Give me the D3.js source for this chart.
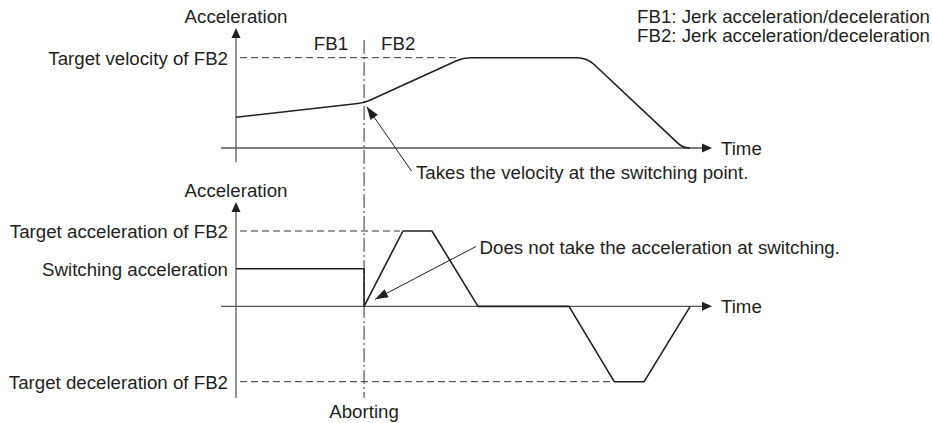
<!DOCTYPE html>
<html>
<head>
<meta charset="utf-8">
<script src="https://cdn.jsdelivr.net/npm/d3@7"></script>
<style>
  body { margin: 0; background: #fff; }
  svg text { font-family: "Liberation Sans", Arial, sans-serif; font-size: 18.7px; fill: #231f20; }
  .curve { fill: none; stroke: #231f20; stroke-width: 1.6; stroke-linejoin: round; }
  .axis { stroke: #555; stroke-width: 1.3; }
  .guide { stroke: #333; stroke-width: 1; stroke-dasharray: 7 4; }
  .abort { stroke: #333; stroke-width: 1; stroke-dasharray: 14 3 2 3; }
  .note { stroke: #231f20; stroke-width: 1; }
  .head { fill: #231f20; }
</style>
</head>
<body>
<div id="chart"></div>
<script>
// time at which FB1 is aborted and FB2 takes over
const switchTime = 30;

// velocity profile corners (time, % of FB2 target velocity)
const velTime  = [0, 30, 53.2, 82.2, 104.7, 106.4];
const velValue = [34, 50, 100, 100, 0, 0];

// acceleration profile (time, % of FB2 target acceleration)
const accTime  = [0, 30, 30, 39.1, 45.9, 56.7, 78.0, 88.6, 95.6, 106.4];
const accValue = [50, 50, 0, 100, 100, 0, 0, -100, -100, 0];

// level labels on the left
const velLevelLabels = ["Target velocity of FB2"];
const velLevelValues = [100];
const accLevelLabels = ["Target acceleration of FB2", "Switching acceleration", "Target deceleration of FB2"];
const accLevelValues = [100, 50, -100];
const accGuideValues = [100, -100];

const legendLines = ["FB1: Jerk acceleration/deceleration", "FB2: Jerk acceleration/deceleration"];

const width = 932, height = 423;

const svg = d3.select("#chart").append("svg")
  .attr("width", width)
  .attr("height", height);

const x = d3.scaleLinear().domain([0, 111.5]).range([236, 712]);
const yVel = d3.scaleLinear().domain([0, 100]).range([148, 57.7]);
const yAcc = d3.scaleLinear().domain([-100, 100]).range([381.7, 231]);

const x0 = x(0);

// filled arrow head pointing from (fx,fy) to tip (tx,ty)
function arrowHead(g, fx, fy, tx, ty, len, half) {
  const a = Math.atan2(ty - fy, tx - fx);
  const bx = tx - len * Math.cos(a), by = ty - len * Math.sin(a);
  const nx = -Math.sin(a) * half, ny = Math.cos(a) * half;
  g.append("path")
    .attr("class", "head")
    .attr("d", `M${tx},${ty}L${bx + nx},${by + ny}L${bx - nx},${by - ny}Z`);
}

function drawAxes(top, bottom, yZero) {
  const g = svg.append("g");
  g.append("line").attr("class", "axis")
    .attr("x1", x0).attr("x2", x0).attr("y1", bottom).attr("y2", top + 8);
  arrowHead(g, x0, bottom, x0, top, 10, 4.5);
  g.append("line").attr("class", "axis")
    .attr("x1", x0 - 15).attr("x2", x.range()[1] - 8).attr("y1", yZero).attr("y2", yZero);
  arrowHead(g, x0, yZero, x.range()[1], yZero, 10, 4.5);
  g.append("text").attr("x", x0).attr("y", top - 5.5).attr("text-anchor", "middle").text("Acceleration");
  g.append("text").attr("x", x.range()[1] + 9).attr("y", yZero + 7).text("Time");
}

// path through corner points with rounded joints
function roundedPath(pts, radii) {
  const p = d3.path();
  p.moveTo(pts[0][0], pts[0][1]);
  for (let i = 1; i < pts.length - 1; i++) {
    p.arcTo(pts[i][0], pts[i][1], pts[i + 1][0], pts[i + 1][1], radii[i]);
  }
  const last = pts[pts.length - 1];
  p.lineTo(last[0], last[1]);
  return p.toString();
}

// ---- guides
const guides = svg.append("g");

velLevelValues.forEach(v => {
  const end = velTime[velValue.indexOf(v)];
  guides.append("line").attr("class", "guide")
    .attr("x1", x0 + 4).attr("x2", x(end) - 3)
    .attr("y1", yVel(v)).attr("y2", yVel(v));
});

accGuideValues.forEach(v => {
  const end = accTime[accValue.indexOf(v)];
  guides.append("line").attr("class", "guide")
    .attr("x1", x0 + 4).attr("x2", x(end) - 3)
    .attr("y1", yAcc(v)).attr("y2", yAcc(v));
});

guides.append("line").attr("class", "abort")
  .attr("x1", x(switchTime)).attr("x2", x(switchTime))
  .attr("y1", 40).attr("y2", 398);

// ---- axes
drawAxes(28, 162, yVel(0));
drawAxes(202, 398, yAcc(0));

// ---- curves
const velPts = velTime.map((t, i) => [x(t), yVel(velValue[i])]);
svg.append("path").attr("class", "curve")
  .attr("d", roundedPath(velPts, [0, 40, 36, 25, 16, 0]));

const accLine = d3.line()
  .x((d, i) => x(accTime[i]))
  .y(d => yAcc(d));
svg.append("path").attr("class", "curve")
  .attr("d", accLine(accValue));

// ---- level labels
svg.selectAll("text.vel-level").data(velLevelLabels).enter().append("text")
  .attr("class", "vel-level")
  .attr("x", x0 - 8)
  .attr("y", (d, i) => yVel(velLevelValues[i]) + 7)
  .attr("text-anchor", "end")
  .text(d => d);

svg.selectAll("text.acc-level").data(accLevelLabels).enter().append("text")
  .attr("class", "acc-level")
  .attr("x", x0 - 8)
  .attr("y", (d, i) => yAcc(accLevelValues[i]) + 7)
  .attr("text-anchor", "end")
  .text(d => d);

// ---- FB1 / FB2 and aborting
svg.append("text").attr("x", x(switchTime) - 16).attr("y", 50).attr("text-anchor", "end").text("FB1");
svg.append("text").attr("x", x(switchTime) + 17).attr("y", 50).text("FB2");
svg.append("text").attr("x", x(switchTime)).attr("y", 418).attr("text-anchor", "middle").text("Aborting");

// ---- legend
svg.selectAll("text.legend").data(legendLines).enter().append("text")
  .attr("class", "legend")
  .attr("x", 637)
  .attr("y", (d, i) => 22.7 + i * 19)
  .text(d => d);

// ---- annotations
const notes = svg.append("g");
const vSwitch = velValue[velTime.indexOf(switchTime)];
const n1 = { tx: x(switchTime) + 2.7, ty: yVel(vSwitch) + 3.8, fx: 411.5, fy: 171 };
notes.append("line").attr("class", "note")
  .attr("x1", n1.fx).attr("y1", n1.fy).attr("x2", n1.tx).attr("y2", n1.ty);
arrowHead(notes, n1.fx, n1.fy, n1.tx, n1.ty, 13, 4.5);
notes.append("text").attr("x", 416).attr("y", 179).text("Takes the velocity at the switching point.");

const n2 = { tx: x(switchTime) + 11, ty: yAcc(0) - 7, fx: 476, fy: 246.5 };
notes.append("line").attr("class", "note")
  .attr("x1", n2.fx).attr("y1", n2.fy).attr("x2", n2.tx).attr("y2", n2.ty);
arrowHead(notes, n2.fx, n2.fy, n2.tx, n2.ty, 13, 4.5);
notes.append("text").attr("x", 479.5).attr("y", 254).text("Does not take the acceleration at switching.");
</script>
</body>
</html>
